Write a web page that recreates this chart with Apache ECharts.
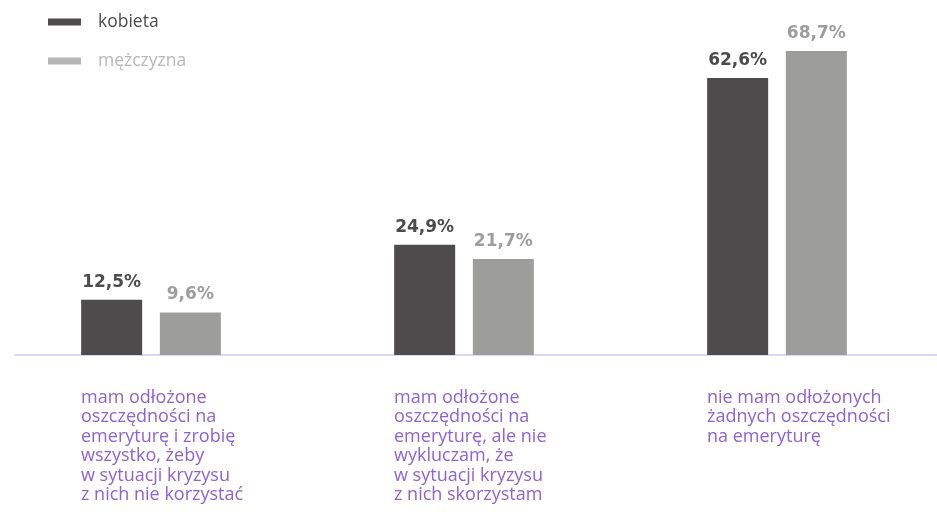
<!DOCTYPE html>
<html>
<head>
<meta charset="utf-8">
<script src="https://cdn.jsdelivr.net/npm/echarts@6/dist/echarts.min.js"></script>
<style>
  html, body { margin: 0; padding: 0; background: #fff; overflow: hidden; }
  /* canvas shifted 20px left so the bar grid can start left of the page edge */
  #chart { position: absolute; left: -20px; top: 0; width: 957px; height: 525px; }
</style>
</head>
<body>
<div id="chart"></div>
<script>
const categories = [
  'mam odłożone\noszczędności na\nemeryturę i zrobię\nwszystko, żeby\nw sytuacji kryzysu\nz nich nie korzystać',
  'mam odłożone\noszczędności na\nemeryturę, ale nie\nwykluczam, że\nw sytuacji kryzysu\nz nich skorzystam',
  'nie mam odłożonych\nżadnych oszczędności\nna emeryturę'
];
const kobieta = [12.5, 24.9, 62.6];
const mezczyzna = [9.6, 21.7, 68.7];

const FONT = 'Open Sans';
const VALUE_FONT = 'DejaVu Sans';
const darkColor = '#4d4b4c';
const lightColor = '#9d9d9c';
const legendLight = '#b7b7b7';
const purple = '#8e62d6';

const fmt = p => p.value.toFixed(1).replace('.', ',') + '%';

const chart = echarts.init(document.getElementById('chart'));

chart.setOption({
  animation: false,
  textStyle: { fontFamily: FONT },
  legend: {
    orient: 'vertical',
    left: 68,
    top: 12,
    padding: 0,
    itemWidth: 33,
    itemHeight: 7,
    itemGap: 19,
    icon: 'rect',
    textStyle: { fontSize: 17.5, lineHeight: 20, padding: [0, 0, 0, 12] },
    data: [
      { name: 'kobieta', itemStyle: { color: darkColor }, textStyle: { color: darkColor } },
      { name: 'mężczyzna', itemStyle: { color: legendLight }, textStyle: { color: legendLight } }
    ]
  },
  grid: [
    { left: 14.5, right: 3.5, top: 1, bottom: 170 },
    { left: 35, right: 0, top: 1, bottom: 170 }
  ],
  xAxis: [
    {
      type: 'category',
      gridIndex: 0,
      data: categories,
      axisLine: { show: false },
      axisTick: { show: false },
      axisLabel: {
        interval: 0,
        align: 'left',
        margin: 33,
        padding: [0, 0, 0, -70],
        color: purple,
        fontSize: 18,
        lineHeight: 19.5,
        fontFamily: FONT
      }
    },
    {
      type: 'value',
      gridIndex: 1,
      min: 0,
      max: 1,
      axisLine: { show: true, lineStyle: { color: '#ddd5f5', width: 2 } },
      axisTick: { show: false },
      axisLabel: { show: false },
      splitLine: { show: false }
    }
  ],
  yAxis: [
    { type: 'value', gridIndex: 0, min: 0, max: 80, show: false },
    { type: 'value', gridIndex: 1, min: 0, max: 1, show: false }
  ],
  series: [
    {
      name: 'kobieta',
      type: 'bar',
      data: kobieta,
      barWidth: 61,
      barGap: '29%',
      itemStyle: { color: darkColor },
      label: {
        show: true,
        position: 'top',
        distance: 9,
        formatter: fmt,
        color: darkColor,
        fontWeight: 'bold',
        fontSize: 17,
        fontFamily: VALUE_FONT
      }
    },
    {
      name: 'mężczyzna',
      type: 'bar',
      data: mezczyzna,
      barWidth: 61,
      itemStyle: { color: lightColor },
      label: {
        show: true,
        position: 'top',
        distance: 9,
        formatter: fmt,
        color: lightColor,
        fontWeight: 'bold',
        fontSize: 17,
        fontFamily: VALUE_FONT
      }
    }
  ]
});
</script>
</body>
</html>
